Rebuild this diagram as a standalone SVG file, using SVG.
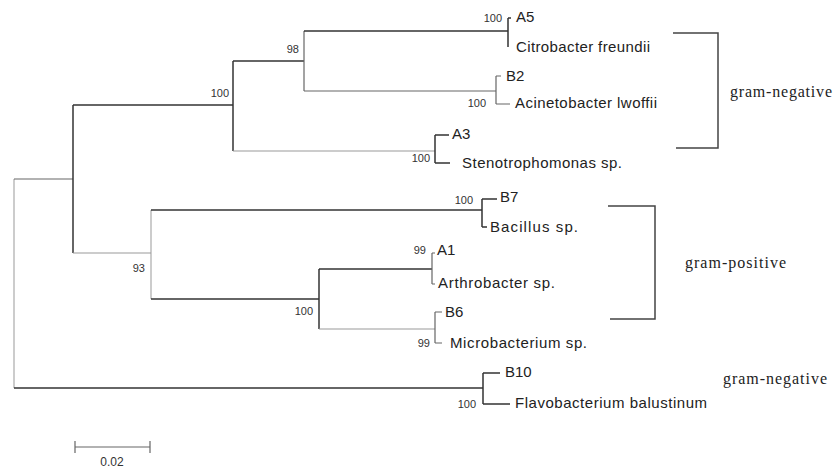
<svg xmlns="http://www.w3.org/2000/svg" width="834" height="468" viewBox="0 0 834 468">
<style>
.d{stroke:#333;stroke-width:1.5;fill:none}
.m{stroke:#666;stroke-width:1.2;fill:none}
.l{stroke:#999;stroke-width:1;fill:none}
.br{stroke:#444;stroke-width:1.5;fill:none}
.leaf{font-family:"Liberation Sans",Arial,sans-serif;font-size:15px;fill:#222}
.bs{font-family:"Liberation Sans",Arial,sans-serif;font-size:11px;fill:#333;text-anchor:end}
.grp{font-family:"Liberation Serif","Times New Roman",serif;font-size:16px;fill:#222}
</style>
<rect width="834" height="468" fill="#fff"/>
<g id="connectors">
<path class="l" d="M14,179 V388"/>
<path class="m" d="M14,179 H73"/>
<path class="d" d="M73,105 V253"/>
<path class="d" d="M73,105 H233"/>
<path class="d" d="M233,61 V151"/>
<path class="d" d="M233,61 H304"/>
<path class="m" d="M304,31 V91"/>
<path class="d" d="M304,31 H508"/>
<path class="d" d="M508,18 V47 M508,18 H511"/>
<path class="m" d="M304,91 H496"/>
<path class="m" d="M496,76 V104 M496,76 H501 M496,104 H510"/>
<path class="l" d="M233,151 H435"/>
<path class="d" d="M435,135 V163 M435,135 H449 M435,163 H450"/>
<path class="l" d="M73,253 H151"/>
<path class="l" d="M151,210 V299"/>
<path class="d" d="M151,210 H482"/>
<path class="d" d="M482,199 V227 M482,199 H497 M482,227 H487"/>
<path class="d" d="M151,299 H319"/>
<path class="d" d="M319,269 V329"/>
<path class="d" d="M319,269 H432"/>
<path class="m" d="M432,253 V284 M432,253 H435 M432,284 H435"/>
<path class="l" d="M319,329 H435"/>
<path class="m" d="M435,312 V343 M435,312 H442 M435,343 H442"/>
<path class="d" d="M14,388 H483"/>
<path class="d" d="M483,373 V404 M483,373 H500 M483,404 H510"/>
</g>
<g id="bootstrap">
<text class="bs" x="229" y="97">100</text>
<text class="bs" x="299" y="53">98</text>
<text class="bs" x="502" y="22">100</text>
<text class="bs" x="486" y="107">100</text>
<text class="bs" x="430" y="162">100</text>
<text class="bs" x="145" y="272">93</text>
<text class="bs" x="473" y="204">100</text>
<text class="bs" x="313" y="315">100</text>
<text class="bs" x="426" y="254">99</text>
<text class="bs" x="430" y="347">99</text>
<text class="bs" x="476" y="408">100</text>
</g>
<g id="leaf-A5"><text class="leaf" x="516" y="22">A5</text><text class="leaf" x="516" y="52" textLength="134">Citrobacter freundii</text></g>
<g id="leaf-B2"><text class="leaf" x="506" y="81">B2</text><text class="leaf" x="515" y="108" textLength="142">Acinetobacter lwoffii</text></g>
<g id="leaf-A3"><text class="leaf" x="452" y="139">A3</text><text class="leaf" x="462" y="168" textLength="160">Stenotrophomonas sp.</text></g>
<g id="leaf-B7"><text class="leaf" x="500" y="202">B7</text><text class="leaf" x="490" y="232" textLength="88">Bacillus sp.</text></g>
<g id="leaf-A1"><text class="leaf" x="437" y="255">A1</text><text class="leaf" x="438" y="288" textLength="117">Arthrobacter sp.</text></g>
<g id="leaf-B6"><text class="leaf" x="445" y="317">B6</text><text class="leaf" x="450" y="348" textLength="137">Microbacterium sp.</text></g>
<g id="leaf-B10"><text class="leaf" x="505" y="377">B10</text><text class="leaf" x="515" y="408" textLength="192">Flavobacterium balustinum</text></g>
<g id="group-gram-negative-1">
<path class="br" d="M673,33 H718 V148 H676"/>
<text class="grp" x="730" y="97" textLength="102">gram-negative</text>
</g>
<g id="group-gram-positive">
<path class="br" d="M608,206 H655 V319 H610"/>
<text class="grp" x="685" y="268" textLength="101">gram-positive</text>
</g>
<g id="group-gram-negative-2">
<text class="grp" x="723" y="384" textLength="104">gram-negative</text>
</g>
<g id="scale-bar">
<path class="m" d="M75,447 H150 M75,441 V453 M150,441 V453"/>
<text class="bs" x="112" y="466" style="text-anchor:middle;font-size:12px">0.02</text>
</g>
</svg>
